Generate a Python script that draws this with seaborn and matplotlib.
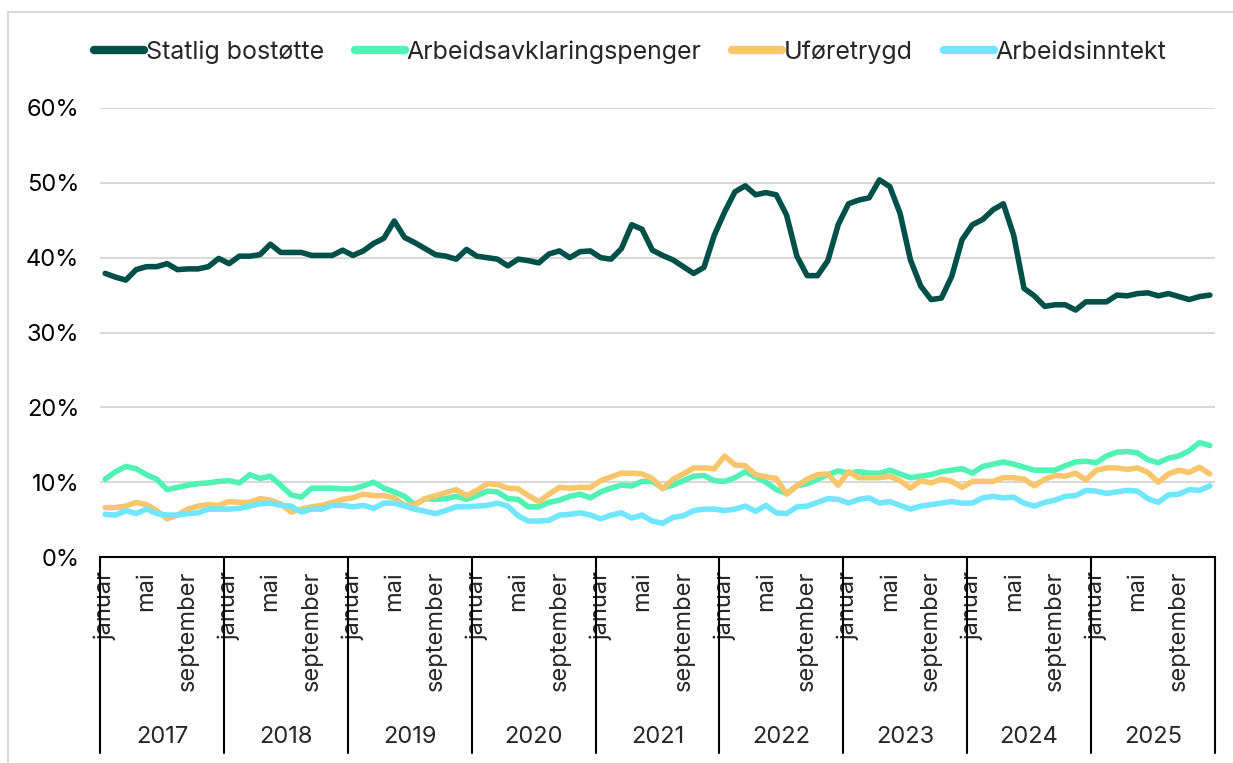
import numpy as np
import pandas as pd
import matplotlib
matplotlib.use("Agg")
import matplotlib.pyplot as plt
import matplotlib.transforms as mtransforms
from matplotlib.lines import Line2D
from matplotlib.patches import Rectangle
import seaborn as sns

# -----------------------------
# Data (andel i prosent, månedlig 2017-2025)
# -----------------------------
years = ["2017", "2018", "2019", "2020", "2021", "2022", "2023", "2024", "2025"]
month_names = ["januar", "februar", "mars", "april", "mai", "juni", "juli",
               "august", "september", "oktober", "november", "desember"]
shown_months = ["januar", "mai", "september"]

series_names = ["Statlig bostøtte", "Arbeidsavklaringspenger", "Uføretrygd", "Arbeidsinntekt"]
series_colors = ["#00504A", "#50F3B4", "#F9C66C", "#70E6FF"]

statlig_bostotte = [
    37.9, 37.4, 37.0, 38.4, 38.8, 38.8, 39.2, 38.4, 38.5, 38.5, 38.8, 39.9,
    39.2, 40.2, 40.2, 40.4, 41.8, 40.7, 40.7, 40.7, 40.3, 40.3, 40.3, 41.0,
    40.3, 40.9, 41.9, 42.6, 44.9, 42.7, 42.0, 41.2, 40.4, 40.2, 39.8, 41.1,
    40.2, 40.0, 39.8, 38.9, 39.8, 39.6, 39.3, 40.5, 40.9, 40.0, 40.8, 40.9,
    40.0, 39.8, 41.2, 44.4, 43.8, 41.0, 40.3, 39.7, 38.8, 37.9, 38.7, 43.0,
    46.1, 48.8, 49.6, 48.4, 48.7, 48.4, 45.7, 40.2, 37.6, 37.6, 39.6, 44.4,
    47.2, 47.7, 48.0, 50.4, 49.5, 45.9, 39.7, 36.2, 34.4, 34.6, 37.5, 42.4,
    44.4, 45.1, 46.4, 47.2, 43.0, 35.9, 34.9, 33.5, 33.7, 33.7, 33.0, 34.1,
    34.1, 34.1, 35.0, 34.9, 35.2, 35.3, 34.9, 35.2, 34.8, 34.4, 34.8, 35.0,
]
arbeidsavklaringspenger = [
    10.4, 11.4, 12.1, 11.8, 11.0, 10.4, 9.0, 9.3, 9.6, 9.8, 9.9, 10.1,
    10.2, 9.9, 11.0, 10.5, 10.8, 9.6, 8.3, 8.0, 9.2, 9.2, 9.2, 9.1,
    9.1, 9.5, 10.0, 9.2, 8.7, 8.1, 7.0, 7.8, 7.7, 7.8, 8.1, 7.7,
    8.2, 8.8, 8.7, 7.8, 7.7, 6.7, 6.7, 7.3, 7.6, 8.1, 8.4, 7.9,
    8.7, 9.2, 9.6, 9.5, 10.1, 10.1, 9.2, 9.6, 10.2, 10.8, 10.9, 10.2,
    10.1, 10.6, 11.4, 10.7, 10.0, 9.0, 8.5, 9.5, 9.8, 10.4, 11.0, 11.5,
    11.2, 11.4, 11.2, 11.2, 11.6, 11.1, 10.6, 10.8, 11.0, 11.4, 11.6, 11.8,
    11.2, 12.1, 12.4, 12.7, 12.4, 12.0, 11.6, 11.6, 11.6, 12.2, 12.7, 12.8,
    12.6, 13.5, 14.0, 14.1, 13.9, 13.0, 12.6, 13.2, 13.5, 14.2, 15.3, 14.9,
]
uforetrygd = [
    6.6, 6.6, 6.8, 7.3, 7.0, 6.2, 5.1, 5.6, 6.4, 6.8, 7.0, 6.9,
    7.4, 7.3, 7.3, 7.8, 7.6, 7.1, 6.0, 6.4, 6.7, 6.9, 7.3, 7.7,
    7.9, 8.4, 8.2, 8.2, 7.9, 6.9, 7.0, 7.8, 8.2, 8.6, 9.0, 8.2,
    8.9, 9.8, 9.7, 9.2, 9.1, 8.2, 7.4, 8.4, 9.3, 9.2, 9.3, 9.3,
    10.2, 10.7, 11.2, 11.2, 11.1, 10.5, 9.1, 10.4, 11.1, 11.9, 11.9, 11.8,
    13.5, 12.3, 12.2, 11.0, 10.7, 10.5, 8.4, 9.5, 10.4, 11.0, 11.1, 9.6,
    11.4, 10.6, 10.6, 10.6, 10.8, 10.2, 9.2, 10.2, 9.9, 10.4, 10.1, 9.3,
    10.1, 10.1, 10.1, 10.6, 10.6, 10.4, 9.5, 10.4, 10.9, 10.8, 11.2, 10.3,
    11.6, 11.9, 11.9, 11.7, 11.9, 11.3, 10.0, 11.1, 11.6, 11.3, 12.0, 11.1,
]
arbeidsinntekt = [
    5.7, 5.6, 6.2, 5.8, 6.4, 5.8, 5.6, 5.6, 5.8, 5.9, 6.4, 6.4,
    6.4, 6.5, 6.8, 7.1, 7.2, 6.9, 6.8, 6.0, 6.4, 6.4, 6.9, 6.9,
    6.7, 6.9, 6.5, 7.2, 7.2, 6.8, 6.4, 6.1, 5.8, 6.2, 6.7, 6.7,
    6.8, 6.9, 7.2, 6.8, 5.5, 4.8, 4.8, 4.9, 5.6, 5.7, 5.9, 5.6,
    5.1, 5.6, 5.9, 5.2, 5.6, 4.8, 4.5, 5.3, 5.5, 6.2, 6.4, 6.4,
    6.2, 6.4, 6.8, 6.1, 6.9, 5.9, 5.8, 6.7, 6.8, 7.3, 7.8, 7.7,
    7.2, 7.7, 7.9, 7.2, 7.4, 6.9, 6.4, 6.8, 7.0, 7.2, 7.4, 7.2,
    7.2, 7.9, 8.1, 7.9, 8.0, 7.2, 6.8, 7.3, 7.6, 8.1, 8.2, 8.9,
    8.8, 8.5, 8.7, 8.9, 8.8, 7.8, 7.3, 8.3, 8.4, 9.0, 8.9, 9.5,
]

# -----------------------------
# Build long table
# -----------------------------
n = len(statlig_bostotte)
idx = np.arange(n)
frames = []
for name, vals in zip(series_names, [statlig_bostotte, arbeidsavklaringspenger,
                                     uforetrygd, arbeidsinntekt]):
    frames.append(pd.DataFrame({"idx": idx, "verdi": vals, "serie": name}))
df = pd.concat(frames, ignore_index=True)

# -----------------------------
# Plot
# -----------------------------
sns.set_theme(style="white")
plt.rcParams["font.family"] = ["Inter", "DejaVu Sans"]
FS = 17

W, H = 1233, 763
fig = plt.figure(figsize=(W / 100, H / 100), dpi=100)
ax = fig.add_axes([100 / W, 1 - 557 / H, 1115 / W, 449 / H])

sns.lineplot(data=df, x="idx", y="verdi", hue="serie", hue_order=series_names,
             palette=series_colors, linewidth=4.0, ax=ax, legend=False,
             solid_joinstyle="round", solid_capstyle="round")

ax.set_xlim(-0.5, n - 0.5)
ax.set_ylim(0, 60)
ax.set_xlabel("")
ax.set_ylabel("")

# y axis
yt = list(range(0, 61, 10))
ax.set_yticks(yt)
ax.set_yticklabels([f"{v}%" for v in yt], fontsize=FS, color="#000000")
ax.tick_params(axis="y", length=0, pad=15)
ax.yaxis.grid(True, color="#D9D9D9", linewidth=1.5)
ax.set_axisbelow(True)

# x axis: month labels
xt, xl = [], []
for y_i in range(len(years)):
    for m in shown_months:
        xt.append(y_i * 12 + month_names.index(m))
        xl.append(m)
ax.set_xticks(xt)
ax.set_xticklabels(xl, rotation=90, fontsize=FS, va="top", ha="center")
ax.tick_params(axis="x", length=0, pad=10)

for s in ["top", "right", "left"]:
    ax.spines[s].set_visible(False)
ax.spines["bottom"].set_color("black")
ax.spines["bottom"].set_linewidth(1.5)

# year separators and labels
trans = mtransforms.blended_transform_factory(ax.transData, fig.transFigure)
for k in range(len(years) + 1):
    b = k * 12 - 0.5
    fig.add_artist(Line2D([b, b], [1 - 557 / H, 1 - 753 / H], transform=trans,
                          color="black", linewidth=1.5))
for k, yr in enumerate(years):
    ax.text(k * 12 + 5.5, 1 - 737 / H, yr, transform=trans, ha="center",
            va="center", fontsize=FS)

# legend
handles = [Line2D([0], [0], color=c, linewidth=6, solid_capstyle="round")
           for c in series_colors]
fig.legend(handles, series_names, loc="center", bbox_to_anchor=(0.511, 1 - 52 / H),
           ncol=4, frameon=False, fontsize=18, handlelength=2.0,
           handletextpad=0.05, columnspacing=1.25)

# outer frame
fig.add_artist(Rectangle((8 / W, -0.1), 1.5, 1 - 12 / H + 0.1, transform=fig.transFigure,
                         fill=False, edgecolor="#D9D9D9", linewidth=1.5))

plt.savefig("out.png", dpi=100)
plt.close()
